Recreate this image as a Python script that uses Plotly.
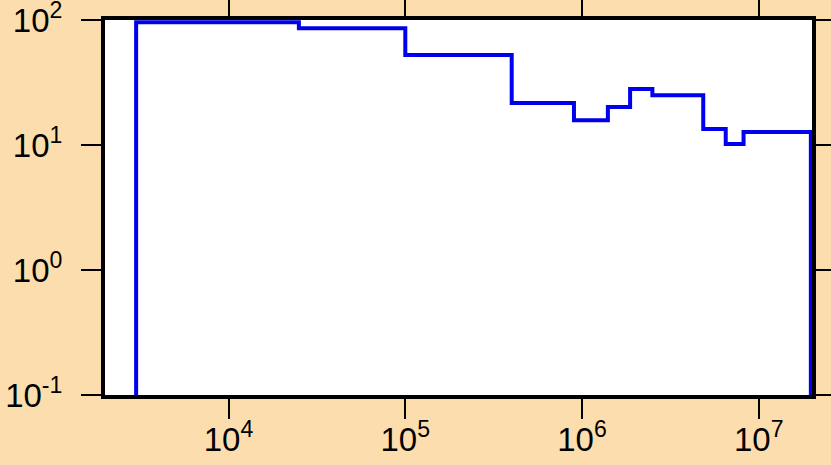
import plotly.graph_objects as go

# Bin edges (x) and step values (y)
bin_edges = [3000, 2.5e4, 1e5, 4e5, 9e5, 1.4e6, 1.87e6, 2.5e6, 4.85e6, 6.5e6, 8.2e6, 1.97e7]
bin_values = [96, 86, 52.5, 21.7, 15.8, 20.1, 28, 25, 13.4, 10.2, 12.7]
floor_value = 0.1

x_tickvals = [1e4, 1e5, 1e6, 1e7]
x_ticktext = ["10<sup>4</sup>", "10<sup>5</sup>", "10<sup>6</sup>", "10<sup>7</sup>"]
y_tickvals = [0.1, 1, 10, 100]
y_ticktext = ["10<sup>-1</sup>", "10<sup>0</sup>", "10<sup>1</sup>", "10<sup>2</sup>"]

xs = [bin_edges[0]] + bin_edges + [bin_edges[-1]]
ys = [floor_value] + bin_values + [bin_values[-1], floor_value]

fig = go.Figure()
fig.add_trace(go.Scatter(
    x=xs, y=ys, mode="lines", line=dict(color="#0000EE", width=4, shape="hv"),
    showlegend=False, hoverinfo="skip",
))

bg = "#FCDEAE"
axis_common = dict(
    type="log", showgrid=False, zeroline=False, automargin=False,
    showline=True, linecolor="black", linewidth=4, mirror="ticks",
    ticks="outside", ticklen=20, tickwidth=2, tickcolor="black",
    ticklabeloverflow="allow",
    tickfont=dict(family="Liberation Sans, Arial, sans-serif", size=33, color="black"),
)

fig.update_xaxes(range=[3.301, 7.301], tickvals=x_tickvals, ticktext=x_ticktext,
                 ticklabelstandoff=-8, **axis_common)
fig.update_yaxes(range=[-1, 2], tickvals=y_tickvals, ticktext=y_ticktext,
                 ticklabelstandoff=12, **axis_common)

fig.update_layout(
    width=831, height=465,
    paper_bgcolor=bg, plot_bgcolor="white",
    margin=dict(l=105, r=19, t=20, b=70),
)

fig.write_html("out.html", config={"displayModeBar": False},
               post_script="document.body.style.margin='0';document.body.style.overflow='hidden';")
